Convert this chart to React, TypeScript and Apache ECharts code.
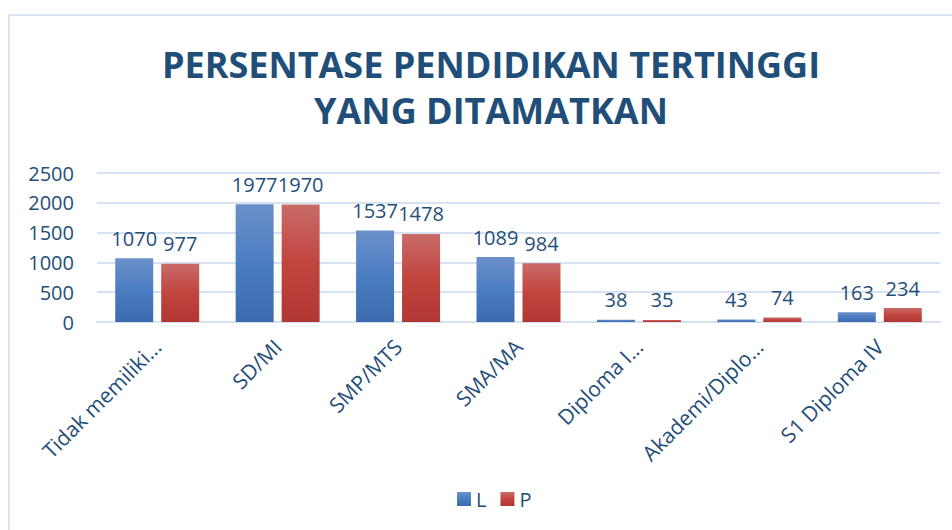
import React, { useEffect, useRef } from "react";
import * as echarts from "echarts";

const categories = [
  "Tidak memiliki...",
  "SD/MI",
  "SMP/MTS",
  "SMA/MA",
  "Diploma I...",
  "Akademi/Diplo...",
  "S1 Diploma IV",
];
const valuesL = [1070, 1977, 1537, 1089, 38, 43, 163];
const valuesP = [977, 1970, 1478, 984, 35, 74, 234];
const seriesNames = ["L", "P"];
const titleText = "PERSENTASE PENDIDIKAN TERTINGGI\nYANG DITAMATKAN";

const TEXT = "#1F4E79";
const GRIDC = "#D6E1F2";
const FONT = "'Open Sans', sans-serif";

const gradL = new echarts.graphic.LinearGradient(0, 0, 0, 1, [
  { offset: 0, color: "#6D90CA" },
  { offset: 0.5, color: "#4A7DC2" },
  { offset: 1, color: "#3B6BAD" },
]);
const gradP = new echarts.graphic.LinearGradient(0, 0, 0, 1, [
  { offset: 0, color: "#C86B68" },
  { offset: 0.5, color: "#C1453F" },
  { offset: 1, color: "#B13733" },
]);

export default function App() {
  const ref = useRef<HTMLDivElement>(null);
  useEffect(() => {
    document.body.style.margin = "0";
    const chart = echarts.init(ref.current!, null, { renderer: "svg" });
    const label = {
      show: true,
      position: "top",
      distance: 10,
      color: TEXT,
      fontFamily: FONT,
      fontSize: 20,
    };
    chart.setOption({
      animation: false,
      backgroundColor: "#FFFFFF",
      textStyle: { fontFamily: FONT },
      title: {
        text: titleText,
        left: 486,
        textAlign: "center",
        top: 36,
        textStyle: {
          color: TEXT,
          fontFamily: FONT,
          fontWeight: "bold",
          fontSize: 36,
          lineHeight: 46,
        },
      },
      graphic: [
        {
          type: "rect",
          silent: true,
          shape: { x: 9, y: 15, width: 980, height: 560 },
          style: { fill: "none", stroke: "#D9E3F3", lineWidth: 2 },
        },
      ],
      legend: {
        data: seriesNames,
        left: 457,
        top: 489,
        padding: 0,
        itemWidth: 14,
        itemHeight: 14,
        itemGap: 14,
        icon: "rect",
        textStyle: { color: TEXT, fontFamily: FONT, fontSize: 20 },
      },
      grid: { left: 97, right: 12, top: 173, bottom: 208, containLabel: false },
      xAxis: {
        type: "category",
        data: categories,
        axisLine: { show: true, lineStyle: { color: GRIDC, width: 2 } },
        axisTick: { show: false },
        axisLabel: {
          rotate: 45,
          margin: 21,
          interval: 0,
          color: TEXT,
          fontFamily: FONT,
          fontSize: 21,
        },
      },
      yAxis: {
        type: "value",
        min: 0,
        max: 2500,
        interval: 500,
        axisLine: { show: false },
        axisTick: { show: false },
        splitLine: { show: true, lineStyle: { color: GRIDC, width: 2 } },
        axisLabel: {
          margin: 23,
          color: TEXT,
          fontFamily: FONT,
          fontSize: 20,
          formatter: (v: number) => String(v),
        },
      },
      series: [
        {
          name: seriesNames[0],
          type: "bar",
          data: valuesL,
          barWidth: 38,
          barGap: "21%",
          itemStyle: { color: gradL },
          label,
        },
        {
          name: seriesNames[1],
          type: "bar",
          data: valuesP,
          barWidth: 38,
          barGap: "21%",
          itemStyle: { color: gradP },
          label,
        },
      ],
    });
    return () => chart.dispose();
  }, []);
  return <div ref={ref} style={{ width: 952, height: 530 }} />;
}
